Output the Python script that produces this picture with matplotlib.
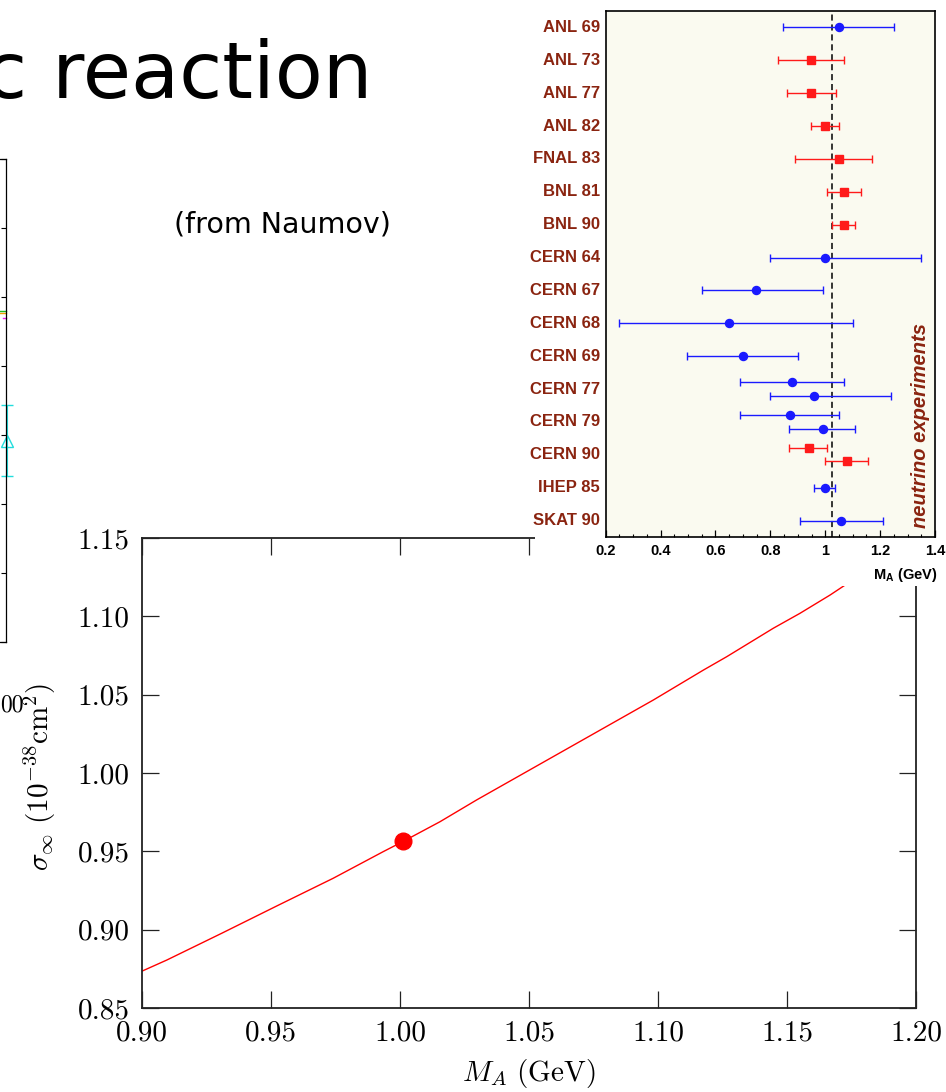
import matplotlib
matplotlib.use("Agg")
import matplotlib.pyplot as plt
from matplotlib.patches import Rectangle
from matplotlib.ticker import FixedLocator, FixedFormatter, MultipleLocator, FormatStrFormatter

plt.rcParams["mathtext.fontset"] = "cm"
plt.rcParams["mathtext.rm"] = "Liberation Sans:bold"
plt.rcParams["mathtext.bf"] = "Liberation Sans:bold"

# ---------------- data ----------------
# total cross section vs axial mass
ma_curve = [0.9001, 0.9096, 0.9309, 0.9522, 0.9741, 0.9935, 1.0013, 1.0155, 1.0297,
            1.0982, 1.1176, 1.1266, 1.1447, 1.1550, 1.1667, 1.1731]
sigma_curve = [0.8736, 0.8806, 0.8977, 0.9151, 0.9328, 0.9498, 0.9564, 0.9689, 0.9828,
               1.0466, 1.0657, 1.0742, 1.0924, 1.1019, 1.1136, 1.1206]
best_ma = 1.001
best_sigma = 0.9565
main_xticks = [0.90, 0.95, 1.00, 1.05, 1.10, 1.15, 1.20]
main_yticks = [0.85, 0.90, 0.95, 1.00, 1.05, 1.10, 1.15]

# M_A measurements from neutrino experiments
experiments = ["ANL 69", "ANL 73", "ANL 77", "ANL 82", "FNAL 83", "BNL 81", "BNL 90",
               "CERN 64", "CERN 67", "CERN 68", "CERN 69", "CERN 77", "CERN 79",
               "CERN 90", "IHEP 85", "SKAT 90"]
meas_row = [0, 1, 2, 3, 4, 5, 6, 7, 8, 9, 10, 11, 11, 12, 12, 13, 13, 14, 15]
meas_shift = [0, 0, 0, 0, 0, 0, 0, 0, 0, 0, 0, -0.2, 0.2, -0.2, 0.2, -0.2, 0.2, 0, 0]
meas_value = [1.050, 0.949, 0.949, 0.999, 1.049, 1.068, 1.068, 0.999, 0.749, 0.650,
              0.700, 0.879, 0.959, 0.872, 0.991, 0.940, 1.079, 0.999, 1.059]
meas_low = [0.847, 0.829, 0.860, 0.947, 0.891, 1.008, 1.026, 0.798, 0.550, 0.247,
            0.495, 0.689, 0.798, 0.689, 0.867, 0.867, 0.999, 0.960, 0.908]
meas_high = [1.251, 1.070, 1.039, 1.049, 1.170, 1.130, 1.108, 1.350, 0.991, 1.101,
             0.901, 1.070, 1.239, 1.049, 1.110, 1.008, 1.157, 1.037, 1.209]
meas_target = ["heavy", "D2", "D2", "D2", "D2", "D2", "D2", "heavy", "heavy", "heavy",
               "heavy", "heavy", "heavy", "heavy", "heavy", "D2", "D2", "heavy", "heavy"]
world_average = 1.026
inset_ticks = [0.2, 0.4, 0.6, 0.8, 1.0, 1.2, 1.4]
inset_ticklabels = ["0.2", "0.4", "0.6", "0.8", "1", "1.2", "1.4"]

# neighbouring panel (left edge)
left_yticks = [0, 1, 2, 3, 4, 5, 6, 7]
left_tri_x, left_tri_y, left_tri_err = 1.004, 2.92, 0.51
left_green_x, left_green_y = [0.982, 1.0], [4.80, 4.80]
left_mag_x, left_mag_y = [0.992, 1.0], [4.70, 4.70]

# ---------------- layout helpers ----------------
W, H = 946, 1092
fig = plt.figure(figsize=(W / 100, H / 100), dpi=100)
fig.patch.set_facecolor("white")


def fx(px):
    return px / W


def fy(py):
    return 1 - py / H


def box(x0, y0, x1, y1):
    return [fx(x0), fy(y1), (x1 - x0) / W, (y1 - y0) / H]


# ---------------- neighbouring panel ----------------
axl = fig.add_axes(box(-300, 159, 5.5, 642), zorder=0)
axl.set_xlim(0, 1)
axl.set_ylim(0, 7)
axl.set_xticks([])
axl.set_yticks(left_yticks)
axl.tick_params(axis="y", left=False, right=True, direction="in", length=3.8,
                width=0.8, labelleft=False)
for s in axl.spines.values():
    s.set_linewidth(0.9)
axl.errorbar([left_tri_x], [left_tri_y], yerr=[left_tri_err], fmt="^", color="#22dddd",
             mfc="none", ms=9, mew=1.0, elinewidth=0.8, capsize=4, capthick=0.8,
             clip_on=False)
axl.plot(left_green_x, [v - 0.03 for v in left_green_y], color="#f0a000", lw=1.0, clip_on=False)
axl.plot(left_green_x, left_green_y, color="#22bb22", lw=1.0, clip_on=False)
axl.plot(left_mag_x, left_mag_y, color="#ee22ee", lw=1.0, clip_on=False)

# ---------------- main panel ----------------
ax = fig.add_axes(box(142, 538, 916, 1008), zorder=1)
ax.plot(ma_curve, sigma_curve, color="#ff0000", lw=1.0)
ax.plot([best_ma], [best_sigma], "o", color="#ff0000", ms=12)
ax.set_xlim(0.90, 1.20)
ax.set_ylim(0.85, 1.15)
ax.xaxis.set_major_locator(FixedLocator(main_xticks))
ax.yaxis.set_major_locator(FixedLocator(main_yticks))
ax.xaxis.set_major_formatter(FormatStrFormatter("%.2f"))
ax.yaxis.set_major_formatter(FormatStrFormatter("%.2f"))
ax.tick_params(which="major", direction="in", length=12.5, width=0.9, top=True,
               right=True, labelsize=21, colors="#222222", labelcolor="black")
ax.tick_params(axis="x", pad=9)
ax.tick_params(axis="y", pad=9)
for lbl in ax.get_xticklabels() + ax.get_yticklabels():
    lbl.set_fontfamily("cmr10")
for s in ax.spines.values():
    s.set_linewidth(1.3)
    s.set_color("#222222")

fig.text(fx(529), fy(1073), r"$M_A\ (\mathrm{GeV})$", ha="center", va="center", fontsize=21)
fig.text(fx(40), fy(777), r"$\sigma_\infty\ (10^{-38}\mathrm{cm}^2)$", ha="center",
         va="center", rotation=90, fontsize=21)

# trailing digits of the neighbouring panel's axis label
fig.text(fx(0), fy(705), "00", ha="left", va="center", fontsize=17, family="cmr10")

# ---------------- slide texts ----------------
fig.text(fx(372), fy(98), "c reaction", ha="right", va="baseline", fontsize=56.5,
         family="DejaVu Sans", color="black")
fig.text(fx(282), fy(233), "(from Naumov)", ha="center", va="baseline", fontsize=20.5,
         family="DejaVu Sans", color="black")

# ---------------- inset with measurements ----------------
fig.add_artist(Rectangle((fx(535), fy(586)), 1 - fx(535), 1 - fy(586),
                         transform=fig.transFigure, facecolor="white",
                         edgecolor="none", zorder=2))

ax2 = fig.add_axes(box(605.7, 11, 935, 537), zorder=3)
ax2.set_facecolor("#fafaf0")
ax2.set_xlim(0.2, 1.4)
ax2.set_ylim(16, 0)
ax2.set_yticks([])
ax2.xaxis.set_major_locator(FixedLocator(inset_ticks))
ax2.xaxis.set_major_formatter(FixedFormatter(inset_ticklabels))
ax2.xaxis.set_minor_locator(MultipleLocator(0.05))
ax2.tick_params(axis="x", which="major", direction="in", length=5, width=0.9,
                labelsize=10.5, pad=5)
ax2.tick_params(axis="x", which="minor", direction="in", length=2.5, width=0.8)
for lbl in ax2.get_xticklabels():
    lbl.set_fontweight("bold")
    lbl.set_fontfamily("Liberation Sans")
for s in ax2.spines.values():
    s.set_linewidth(1.2)

ax2.axvline(world_average, color="black", lw=1.1, ls=(0, (4, 2.5)), zorder=1)

brown = "#8a2410"
for i, name in enumerate(experiments):
    ax2.text(-0.017, i + 0.5, name, transform=ax2.get_yaxis_transform(), ha="right",
             va="center", fontsize=12, fontweight="bold", color=brown,
             family="Liberation Sans")

styles = {"heavy": dict(fmt="o", color="#1a1aff", ms=5.8),
          "D2": dict(fmt="s", color="#ff1a1a", ms=5.6)}
for r, sh, v, lo, hi, tg in zip(meas_row, meas_shift, meas_value, meas_low, meas_high,
                                meas_target):
    st = styles[tg]
    ax2.errorbar([v], [r + 0.5 + sh], xerr=[[v - lo], [hi - v]], fmt=st["fmt"],
                 color=st["color"], ms=st["ms"], elinewidth=1.0, capsize=3.2,
                 capthick=1.0, zorder=3)

ax2.text(0.955, 0.017, "neutrino experiments", transform=ax2.transAxes, rotation=90,
         ha="center", va="bottom", fontsize=14.5, fontweight="bold", fontstyle="italic",
         color=brown, family="Liberation Sans")

fig.text(fx(938), fy(575), r"M$_\mathrm{A}$ (GeV)", ha="right", va="center",
         fontsize=10.5, fontweight="bold", family="Liberation Sans",
         math_fontfamily="custom", zorder=4)

fig.savefig("out.png", dpi=100, facecolor="white")
